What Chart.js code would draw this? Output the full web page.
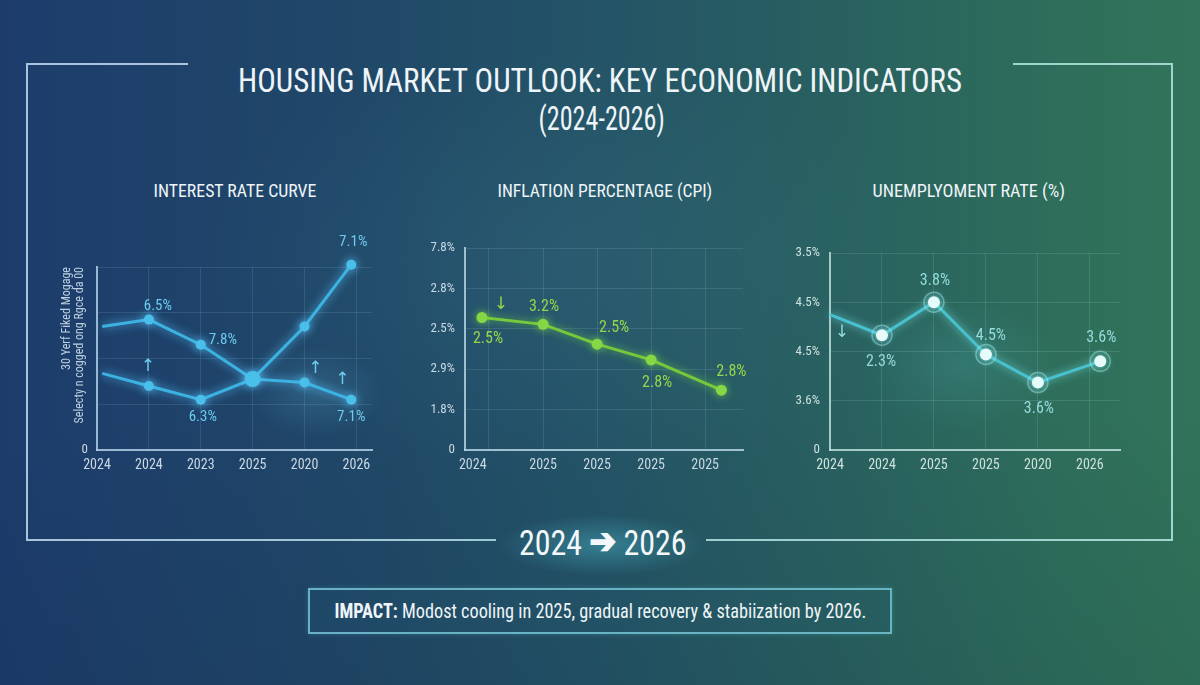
<!DOCTYPE html>
<html><head><meta charset="utf-8">
<script src="https://cdn.jsdelivr.net/npm/chart.js@4.4.1/dist/chart.umd.min.js"></script>
<style>
html,body{margin:0;padding:0;}
body{width:1200px;height:685px;overflow:hidden;position:relative;
background:linear-gradient(90deg,#1d3c6c 0%,#204868 30%,#245566 52%,#29625f 72%,#2e6e5b 88%,#31745a 100%);
font-family:'Roboto Condensed',Roboto,sans-serif;}
.bg2{position:absolute;left:0;top:0;width:1200px;height:685px;
background:radial-gradient(ellipse 520px 300px at 560px 260px,rgba(70,130,150,0.18),rgba(0,0,0,0) 70%),
linear-gradient(180deg,rgba(0,0,0,0) 60%,rgba(10,30,50,0.10) 100%);}
.t{position:absolute;white-space:nowrap;color:#eef4f8;line-height:1;transform-origin:center center;left:0;top:0;}
.ln{position:absolute;}
.glow{position:absolute;}
canvas{position:absolute;}
.arr{font-family:'DejaVu Sans',sans-serif;font-weight:bold;font-size:1.0em;-webkit-text-stroke:1.6px #f4f8fa;position:relative;top:-0.04em;}
</style></head>
<body>
<div class="bg2"></div>

<!-- frame -->
<div class="ln" style="left:26px;top:63px;width:162px;height:2px;background:#a9c4dc"></div>
<div class="ln" style="left:26px;top:63px;width:2px;height:478px;background:#a9c4dc"></div>
<div class="ln" style="left:26px;top:539px;width:470px;height:2px;background:linear-gradient(90deg,#a9c4dc,#9ec9d3)"></div>
<div class="ln" style="left:706px;top:539px;width:467px;height:2px;background:linear-gradient(90deg,#9fcfd2,#9ed6cb)"></div>
<div class="ln" style="left:1171px;top:63px;width:2px;height:478px;background:#9ed6cb"></div>
<div class="ln" style="left:1013px;top:63px;width:160px;height:2px;background:#9ed6cb"></div>

<!-- glows -->
<div class="glow" style="left:250px;top:350px;width:130px;height:85px;background:radial-gradient(ellipse at 50% 50%,rgba(110,200,240,0.18),rgba(110,200,240,0) 75%)"></div>
<div class="glow" style="left:860px;top:300px;width:200px;height:130px;background:radial-gradient(ellipse at 50% 50%,rgba(90,200,210,0.16),rgba(90,200,210,0) 70%)"></div>
<div class="glow" style="left:500px;top:515px;width:205px;height:60px;background:radial-gradient(ellipse at 50% 50%,rgba(70,165,185,0.55),rgba(70,165,185,0) 72%)"></div>

<!-- texts -->
<div class="t" data-cx="600" data-cy="80" data-w="724" style="font-size:33px">HOUSING MARKET OUTLOOK: KEY ECONOMIC INDICATORS</div>
<div class="t" data-cx="601" data-cy="118" data-w="126" style="font-size:33px">(2024-2026)</div>
<div class="t" data-cx="235" data-cy="190" data-w="163" style="font-size:19px">INTEREST RATE CURVE</div>
<div class="t" data-cx="605" data-cy="190" data-w="215" style="font-size:19px">INFLATION PERCENTAGE (CPI)</div>
<div class="t" data-cx="968" data-cy="190" data-w="192" style="font-size:19px">UNEMPLYOMENT RATE (%)</div>
<div class="t" data-cx="603" data-cy="543" data-w="168" style="font-size:35px;color:#f4f8fa">2024 <span class="arr">➔</span> 2026</div>

<div style="position:absolute;left:308px;top:588px;width:584px;height:46px;box-sizing:border-box;border:2px solid rgba(112,190,206,0.9);background:rgba(40,95,115,0.18);box-shadow:0 0 5px rgba(100,200,220,0.25)"></div>
<div class="t" data-cx="600" data-cy="611" data-w="532" style="font-size:20px;color:#eef5f7"><b>IMPACT:</b> Modost cooling in 2025, gradual recovery &amp; stabiization by 2026.</div>

<canvas id="c1" width="350" height="270" style="left:40px;top:220px"></canvas>
<canvas id="c2" width="345" height="270" style="left:415px;top:220px"></canvas>
<canvas id="c3" width="355" height="270" style="left:780px;top:220px"></canvas>

<script>
// ---------- DATA ----------
// Interest rate curve
const irXLabels = ['2024','2024','2023','2025','2020','2026'];
const irTickPos = [0,1,2,3,4,5];
const irPointX  = [0.1,1,2,3,4,4.9];
const irUpper   = [5.4,5.7,4.6,3.1,5.4,8.1];
const irLower   = [3.35,2.8,2.2,3.1,2.95,2.2];
const irYTicks  = [0,2,4,6,8];
const irYLabels = ['0','','','',''];
const irUpperText = ['','6.5%','7.8%','','','7.1%'];
const irLowerText = ['','','6.3%','','','7.1%'];
const irAxisTitle = ['30 Yerf Fiked Mogage','Selecty n cogged ong Rgce da 00'];
const irArrows = [{x:0.98,y:3.63,t:'↑'},{x:4.21,y:3.58,t:'↑'},{x:4.73,y:3.1,t:'↑'}];

// Inflation percentage (CPI)
const cpiXLabels = ['2024','','2025','2025','2025','2025'];
const cpiTickPos = [0.7,1,2,3,4,5];
const cpiPointX  = [0.87,2,3,4,5.3];
const cpiValues  = [3.28,3.11,2.62,2.23,1.48];
const cpiYTicks  = [0,1,2,3,4,5];
const cpiYLabels = ['0','1.8%','2.9%','2.5%','2.8%','7.8%'];
const cpiText    = ['2.5%','3.2%','2.5%','2.8%','2.8%'];
const cpiArrows  = [{x:1.22,y:3.61,t:'↓'}];

// Unemployment rate
const unXLabels = ['2024','2024','2025','2025','2020','2026'];
const unTickPos = [0,1,2,3,4,5];
const unPointX  = [0,1,2,3,4,5.2];
const unValues  = [2.75,2.33,3.0,1.94,1.37,1.8];
const unYTicks  = [0,1,2,3,4];
const unYLabels = ['0','3.6%','4.5%','4.5%','3.5%'];
const unText    = ['','2.3%','3.8%','4.5%','3.6%','3.6%'];
const unArrows  = [{x:0.23,y:2.38,t:'↓'}];

// ---------- label placement (style) ----------
const irUpperOff = [null,[9,-13],[22,-5],null,null,[2,-22]];
const irLowerOff = [null,null,[2,18],null,null,[0,18]];
const cpiOff = [[6,22],[1,-17],[17,-16],[6,23],[10,-18]];
const unOff  = [null,[-1,27],[1,-21],[5,-18],[1,26],[1,-23]];

// ---------- html text fitting ----------
document.querySelectorAll('.t').forEach(el=>{
  const cx=+el.dataset.cx, cy=+el.dataset.cy, w=+el.dataset.w;
  const nw=el.offsetWidth, nh=el.offsetHeight;
  el.style.left=(cx-nw/2)+'px';
  el.style.top=(cy-nh/2)+'px';
  el.style.transform='scaleX('+(w/nw)+')';
});

// ---------- Chart.js ----------
const FAM = "'Roboto Condensed',Roboto,sans-serif";
const ARRF = "'DejaVu Sans',sans-serif";
Chart.defaults.font.family = FAM;

const annot = {
  id:'annot',
  beforeDatasetDraw(chart,args,opts){
    if(!opts.glow) return;
    chart.ctx.save();
    chart.ctx.shadowColor=opts.glow.color;
    chart.ctx.shadowBlur=opts.glow.blur;
  },
  afterDatasetDraw(chart,args,opts){ if(opts.glow) chart.ctx.restore(); },
  afterDatasetsDraw(chart,args,opts){
    const ctx=chart.ctx;
    if(opts.ring){
      chart.data.datasets.forEach((ds,di)=>{
        chart.getDatasetMeta(di).data.forEach((pt,i)=>{
          const r = Array.isArray(ds.pointRadius)?ds.pointRadius[i]:ds.pointRadius;
          if(!r) return;
          ctx.save();
          ctx.beginPath(); ctx.arc(pt.x,pt.y,r+4,0,Math.PI*2);
          ctx.strokeStyle=opts.ring; ctx.lineWidth=1.5; ctx.stroke();
          ctx.restore();
        });
      });
    }
    ctx.save();
    ctx.font=opts.font; ctx.fillStyle=opts.color;
    ctx.textAlign='center'; ctx.textBaseline='middle';
    (opts.sets||[]).forEach(S=>{
      const meta=chart.getDatasetMeta(S.ds);
      S.text.forEach((txt,i)=>{
        if(!txt||!S.off[i]) return;
        const pt=meta.data[i];
        ctx.fillText(txt,pt.x+S.off[i][0],pt.y+S.off[i][1]);
      });
    });
    ctx.font=opts.arrowFont;
    (opts.arrows||[]).forEach(a=>{
      ctx.fillText(a.t,chart.scales.x.getPixelForValue(a.x),chart.scales.y.getPixelForValue(a.y));
    });
    ctx.restore();
  }
};
Chart.register(annot);

const tickC='#c9d8e3';
function axes(o){
  return {
    x:{type:'linear',min:o.xmin,max:o.xmax,
      afterBuildTicks:s=>{s.ticks=o.xTicks.map(v=>({value:v}));},
      afterFit:s=>{s.height=40;},
      ticks:{callback:(v,i)=>o.xLabels[i],color:o.tickColor||tickC,font:{size:14},padding:7,autoSkip:false,maxRotation:0},
      grid:{color:o.xGrid||(()=>o.gridColor),drawTicks:false,lineWidth:1},
      border:{color:o.axisColor,width:2}},
    y:{type:'linear',min:0,max:o.ymax,
      afterBuildTicks:s=>{s.ticks=o.yTicks.map(v=>({value:v}));},
      afterFit:s=>{s.width=o.yWidth;},
      ticks:{callback:(v,i)=>o.yLabels[i],color:o.tickColor||tickC,font:{size:13},padding:o.yPad},
      grid:{color:o.gridColor,drawTicks:false,lineWidth:1},
      border:{color:o.axisColor,width:2},
      title:o.yTitle||{display:false}}
  };
}
const base = (pad)=>({responsive:false,animation:false,
  layout:{padding:pad,autoPadding:false},
  elements:{line:{tension:0}},
});

// Chart 1
new Chart(document.getElementById('c1'),{
  type:'line',
  data:{datasets:[
    {data:irPointX.map((x,i)=>({x,y:irUpper[i]})),borderColor:'#3bb2e2',borderWidth:3,
     pointRadius:[0,5,5,8,5,5],pointBackgroundColor:'#49bfea',pointBorderWidth:0,clip:false},
    {data:irPointX.map((x,i)=>({x,y:irLower[i]})),borderColor:'#3bb2e2',borderWidth:3,
     pointRadius:[0,5,5,0,5,5],pointBackgroundColor:'#49bfea',pointBorderWidth:0,clip:false}
  ]},
  options:Object.assign(base({left:0,right:18,top:47,bottom:0}),{
    plugins:{legend:{display:false},tooltip:{enabled:false},
      annot:{glow:{color:'rgba(90,200,255,0.9)',blur:10},font:'15px '+FAM,color:'#6dcbf0',arrowFont:'17px '+ARRF,
        sets:[{ds:0,text:irUpperText,off:irUpperOff},{ds:1,text:irLowerText,off:irLowerOff}],arrows:irArrows}},
    scales:axes({xmin:0,xmax:5.3,xTicks:irTickPos,xLabels:irXLabels,ymax:8,yTicks:irYTicks,yLabels:irYLabels,
      yWidth:57,yPad:9,gridColor:'rgba(150,190,220,0.16)',axisColor:'rgba(175,205,228,0.85)',
      yTitle:{display:true,text:irAxisTitle,color:'#bcd0e0',font:{size:12,lineHeight:1.1},align:'end',padding:{top:20,bottom:0}}})
  })
});

// Chart 2
new Chart(document.getElementById('c2'),{
  type:'line',
  data:{datasets:[
    {data:cpiPointX.map((x,i)=>({x,y:cpiValues[i]})),borderColor:'#76c93b',borderWidth:3,
     pointRadius:5.5,pointBackgroundColor:'#86d646',pointBorderWidth:0,clip:false}
  ]},
  options:Object.assign(base({left:0,right:17,top:28,bottom:0}),{
    plugins:{legend:{display:false},tooltip:{enabled:false},
      annot:{glow:{color:'rgba(130,230,70,0.7)',blur:8},font:'16px '+FAM,color:'#97d64b',arrowFont:'17px '+ARRF,
        sets:[{ds:0,text:cpiText,off:cpiOff}],arrows:cpiArrows}},
    scales:axes({xmin:0.556,xmax:5.7,xTicks:cpiTickPos,xLabels:cpiXLabels,ymax:5,yTicks:cpiYTicks,yLabels:cpiYLabels,
      yWidth:50,yPad:10,gridColor:'rgba(160,200,215,0.16)',axisColor:'rgba(180,210,225,0.85)',
      xGrid:(c)=>(c.tick&&c.tick.value===0.7)?'rgba(0,0,0,0)':'rgba(160,200,215,0.16)'})
  })
});

// Chart 3
new Chart(document.getElementById('c3'),{
  type:'line',
  data:{datasets:[
    {data:unPointX.map((x,i)=>({x,y:unValues[i]})),borderColor:'#48c1cf',borderWidth:3,
     pointRadius:[0,6,6,6,6,6],pointBackgroundColor:'#e6fbfa',pointBorderWidth:0,clip:false}
  ]},
  options:Object.assign(base({left:0,right:15,top:33,bottom:0}),{
    plugins:{legend:{display:false},tooltip:{enabled:false},
      annot:{glow:{color:'rgba(120,235,240,0.8)',blur:9},ring:'rgba(170,235,235,0.45)',font:'16px '+FAM,color:'#93dcdc',arrowFont:'17px '+ARRF,
        sets:[{ds:0,text:unText,off:unOff}],arrows:unArrows}},
    scales:axes({xmin:0,xmax:5.58,xTicks:unTickPos,xLabels:unXLabels,ymax:4,yTicks:unYTicks,yLabels:unYLabels,
      yWidth:50,yPad:10,gridColor:'rgba(170,215,210,0.16)',axisColor:'rgba(185,220,215,0.85)',tickColor:'#cde0dc'})
  })
});
</script>
</body></html>
